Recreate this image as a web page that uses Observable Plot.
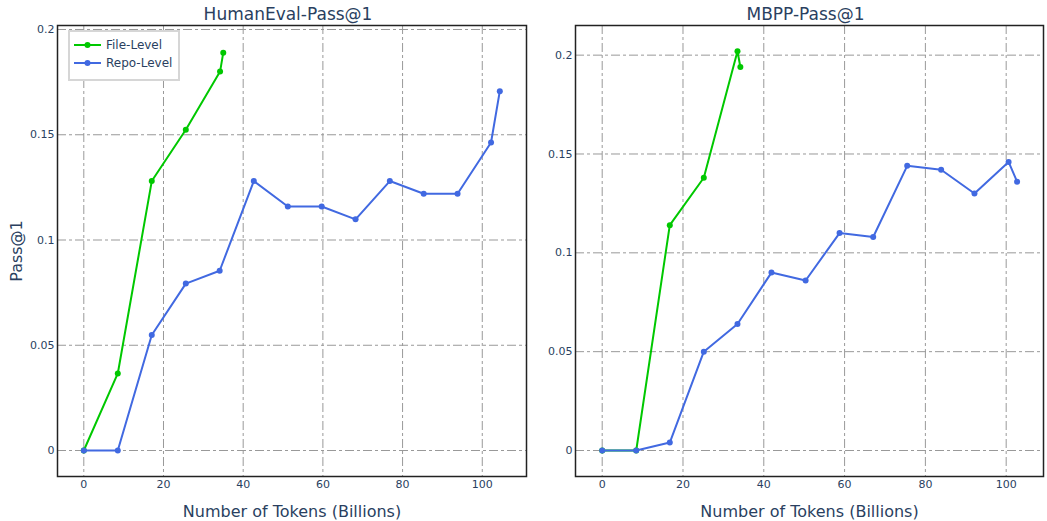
<!DOCTYPE html>
<html><head><meta charset="utf-8">
<script src="https://cdn.jsdelivr.net/npm/d3@7"></script>
<script src="https://cdn.jsdelivr.net/npm/@observablehq/plot@0.6"></script>
<style>
body{margin:0;background:#fff;font-family:"DejaVu Sans",sans-serif;}
#wrap{position:relative;width:1047px;height:521px;display:flex;overflow:hidden;}
#wrap svg{display:block;flex:none;}
.legend{position:absolute;left:68px;top:30px;width:112px;height:51px;box-sizing:border-box;border:2px solid #d6d6d6;background:#fff;font:12px "DejaVu Sans",sans-serif;color:#2a3f5f;}
.legend .row{position:absolute;left:4px;height:16px;display:flex;align-items:center;white-space:nowrap;}
.legend svg{margin-right:5px;}
</style></head><body><div id="wrap"></div>
<script>
// ---- data ----
const seriesNames = ["File-Level", "Repo-Level"];
const xTicks = [0, 20, 40, 60, 80, 100];
const yTicks = [0, 0.05, 0.1, 0.15, 0.2];

const heFileX = [0, 8.53, 17.06, 25.6, 34.2, 35.0];
const heFileY = [0, 0.0366, 0.128, 0.1524, 0.180, 0.189];
const heRepoX = [0, 8.53, 17.06, 25.6, 34.1, 42.66, 51.2, 59.7, 68.2, 76.8, 85.3, 93.8, 102.2, 104.4];
const heRepoY = [0, 0, 0.0549, 0.0793, 0.0854, 0.128, 0.1159, 0.1159, 0.1098, 0.128, 0.122, 0.122, 0.1463, 0.1707];

const mbFileX = [0, 8.42, 16.73, 25.15, 33.49, 34.2];
const mbFileY = [0, 0, 0.114, 0.138, 0.202, 0.194];
const mbRepoX = [0, 8.42, 16.73, 25.15, 33.49, 41.9, 50.35, 58.75, 67.08, 75.5, 83.9, 92.15, 100.6, 102.7];
const mbRepoY = [0, 0, 0.004, 0.05, 0.064, 0.09, 0.086, 0.11, 0.108, 0.144, 0.142, 0.13, 0.146, 0.136];

const GREEN = "#00c800";
const BLUE = "#4169e1";
const TXT = "#2a3f5f";

const zip = (xs, ys) => xs.map((x, i) => ({x, y: ys[i]}));

function panel({title, width, marginLeft, xDomain, yDomain, file, repo, ylabel}) {
  const grid = {stroke: "#999", strokeOpacity: 1, strokeWidth: 1, strokeDasharray: "9,3,3,3"};
  const marks = [
    Plot.gridX(xTicks, grid),
    Plot.gridY(yTicks, grid),
    Plot.axisX(xTicks, {tickSize: 0, tickPadding: 4, fontSize: 11, fill: TXT, label: null}),
    Plot.axisY(yTicks, {tickSize: 0, tickPadding: 3, fontSize: 11, fill: TXT, label: null, tickFormat: d => String(d)}),
    Plot.line(file, {x: "x", y: "y", stroke: GREEN, strokeWidth: 2}),
    Plot.dot(file, {x: "x", y: "y", fill: GREEN, r: 3}),
    Plot.line(repo, {x: "x", y: "y", stroke: BLUE, strokeWidth: 2}),
    Plot.dot(repo, {x: "x", y: "y", fill: BLUE, r: 3}),
    Plot.frame({stroke: "#222", strokeWidth: 1.5}),
    Plot.text([title], {text: d => d, frameAnchor: "top", lineAnchor: "middle", dx: -4, dy: -11, fontSize: 17, fill: TXT}),
    Plot.text(["Number of Tokens (Billions)"], {text: d => d, frameAnchor: "bottom", lineAnchor: "middle", dy: 35, fontSize: 16, fill: TXT})
  ];
  if (ylabel) marks.push(Plot.text([ylabel], {text: d => d, frameAnchor: "left", textAnchor: "middle", lineAnchor: "middle", dx: -41, rotate: -90, fontSize: 16, fill: TXT}));
  return Plot.plot({
    width, height: 521, marginLeft, marginRight: 4, marginTop: 25, marginBottom: 45,
    style: {fontFamily: "DejaVu Sans", background: "#fff", color: TXT, overflow: "visible"},
    x: {domain: xDomain},
    y: {domain: yDomain},
    marks
  });
}

const wrap = document.getElementById("wrap");
wrap.append(panel({
  title: "HumanEval-Pass@1", width: 530, marginLeft: 57,
  xDomain: [-6.6, 111.1], yDomain: [-0.01235, 0.2019],
  file: zip(heFileX, heFileY), repo: zip(heRepoX, heRepoY), ylabel: "Pass@1"
}));
wrap.append(panel({
  title: "MBPP-Pass@1", width: 517, marginLeft: 45,
  xDomain: [-6.61, 109.24], yDomain: [-0.01315, 0.215],
  file: zip(mbFileX, mbFileY), repo: zip(mbRepoX, mbRepoY), ylabel: null
}));

// legend
const lg = document.createElement("div");
lg.className = "legend";
const colors = [GREEN, BLUE];
seriesNames.forEach((name, i) => {
  const row = document.createElement("div");
  row.className = "row";
  row.style.top = (5 + i * 18.3) + "px";
  row.innerHTML = `<svg width="27" height="8"><line x1="0" y1="4" x2="27" y2="4" stroke="${colors[i]}" stroke-width="2"/><circle cx="13.5" cy="4" r="3" fill="${colors[i]}"/></svg><span>${name}</span>`;
  lg.append(row);
});
wrap.append(lg);
</script>
</body></html>
